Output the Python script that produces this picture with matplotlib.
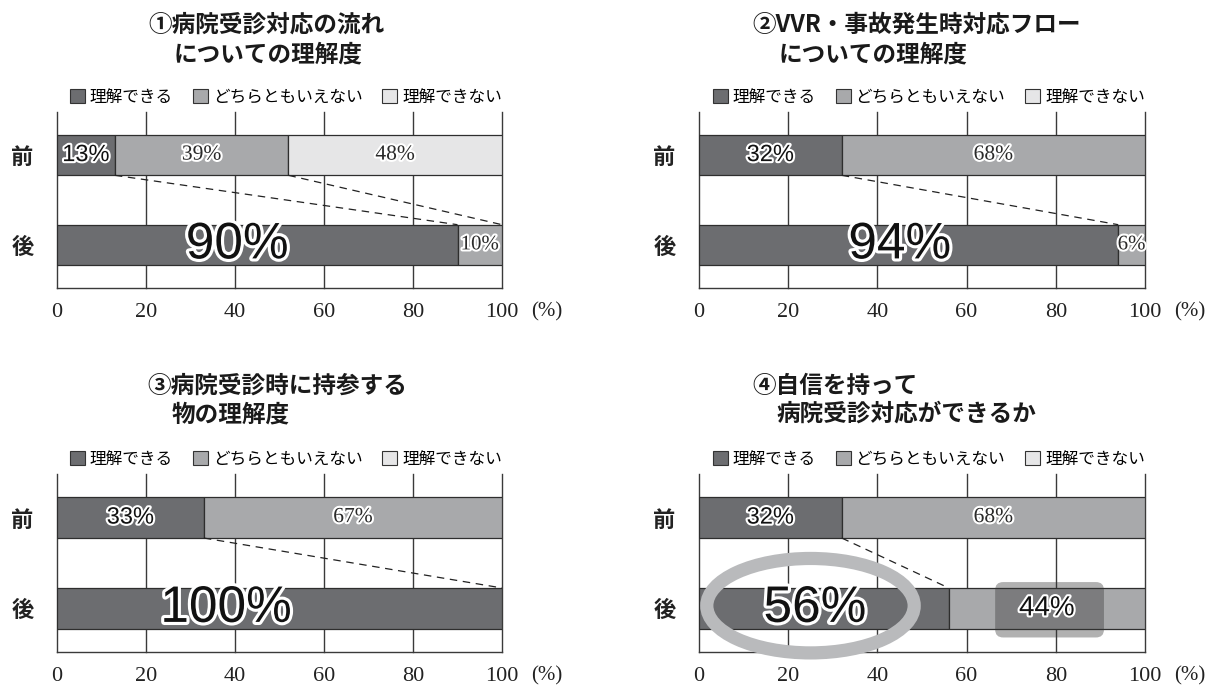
import matplotlib
matplotlib.use("Agg")
import matplotlib.pyplot as plt
import matplotlib.patheffects as pe
from matplotlib.patches import Patch, Ellipse, FancyBboxPatch

W, H, DPI = 1209, 686, 100

JP_SANS = ["Noto Sans CJK JP", "DejaVu Sans"]
NUM_SERIF = ["Liberation Serif", "Noto Sans CJK JP"]
NUM_SANS = ["Liberation Sans", "DejaVu Sans"]

# ---- data -------------------------------------------------------------
categories = ["理解できる", "どちらともいえない", "理解できない"]
stages = ["前", "後"]
xticks = [0, 20, 40, 60, 80, 100]

title_line1 = ["①病院受診対応の流れ", "②VVR・事故発生時対応フロー",
               "③病院受診時に持参する", "④自信を持って"]
title_line2 = ["についての理解度", "についての理解度",
               "物の理解度", "病院受診対応ができるか"]

# percentages per category, before (前) and after (後)
q1_before = [13, 39, 48]
q1_after = [90, 10, 0]
q2_before = [32, 68, 0]
q2_after = [94, 6, 0]
q3_before = [33, 67, 0]
q3_after = [100, 0, 0]
q4_before = [32, 68, 0]
q4_after = [56, 44, 0]

before = [q1_before, q2_before, q3_before, q4_before]
after = [q1_after, q2_after, q3_after, q4_after]

# ---- styling ----------------------------------------------------------
colors = ["#6c6d70", "#a8a9ab", "#e6e6e7"]
edge = "#2e2e2e"
grid_c = "#3a3a3a"

# axes boxes in pixels: left, top, right, bottom
boxes = [(57, 112, 502, 288), (699, 112, 1145, 288),
         (57, 474, 502, 652), (699, 474, 1145, 652)]
title_xy = [(148, 25, 174, 54), (752, 25, 779, 54),
            (147, 386, 172, 414), (752, 386, 776, 414)]
big_label_x = [40.5, 45, 38, 26]

BAR_H = 0.45
Y_BEFORE, Y_AFTER = 1, 0

fig = plt.figure(figsize=(W / DPI, H / DPI), dpi=DPI, facecolor="white")


def halo(w):
    return [pe.Stroke(linewidth=w, foreground="white"), pe.Normal()]


for i, (l, t, r, b) in enumerate(boxes):
    ax = fig.add_axes([l / W, 1 - b / H, (r - l) / W, (b - t) / H])
    ax.set_xlim(0, 100)
    ax.set_ylim(-0.48, 1.48)
    ax.set_axisbelow(True)
    for s in ["top", "right", "left"]:
        ax.spines[s].set_visible(False)
    ax.spines["bottom"].set_color(grid_c)
    ax.spines["bottom"].set_linewidth(1.0)
    ax.set_xticks(xticks)
    ax.set_xticklabels([str(v) for v in xticks], family=NUM_SERIF,
                       fontsize=16, color="#222222")
    ax.set_yticks([Y_BEFORE, Y_AFTER])
    ax.set_yticklabels(stages, family=JP_SANS, fontweight="bold",
                       fontsize=16, color="#222222")
    ax.tick_params(axis="x", length=0, pad=11)
    ax.tick_params(axis="y", length=0, pad=17)
    ax.grid(axis="x", color=grid_c, linewidth=1.0)
    ax.grid(axis="y", visible=False)
    for gl in ax.get_xgridlines():
        gl.set_clip_on(False)

    rows = [(Y_BEFORE, before[i]), (Y_AFTER, after[i])]
    bounds = {}
    for y, vals in rows:
        left = 0
        bl = []
        for k, v in enumerate(vals):
            if v > 0:
                ax.barh(y, v, left=left, height=BAR_H, color=colors[k],
                        edgecolor=edge, linewidth=0.9, zorder=2)
            left += v
            bl.append(left)
        bounds[y] = bl

    # value labels
    left = 0
    for k, v in enumerate(before[i]):
        if v > 0:
            cx = left + v / 2
            if k == 0:
                ax.text(cx, Y_BEFORE, f"{v}%", ha="center", va="center",
                        family=NUM_SANS, fontsize=17, color="#111111",
                        zorder=6, path_effects=halo(3))
            else:
                ax.text(cx, Y_BEFORE, f"{v}%", ha="center", va="center",
                        family=NUM_SERIF, fontsize=15.5, color="#2a2a2a",
                        zorder=6, path_effects=halo(3))
        left += v
    left = 0
    for k, v in enumerate(after[i]):
        if v > 0:
            cx = left + v / 2
            if k == 0:
                ax.text(big_label_x[i], Y_AFTER, f"{v}%", ha="center",
                        va="center", family=NUM_SANS, fontsize=37,
                        color="#111111", zorder=6, path_effects=halo(4.5))
            elif i == 3:
                ax.text(cx, Y_AFTER, f"{v}%", ha="center", va="center",
                        family=NUM_SANS, fontsize=20, color="#111111",
                        zorder=6, path_effects=halo(3))
            else:
                ax.text(cx, Y_AFTER, f"{v}%", ha="center", va="center",
                        family=NUM_SERIF, fontsize=15, color="#2a2a2a",
                        zorder=6, path_effects=halo(3))
        left += v

    # dashed connectors between matching cumulative boundaries
    for xb, xa in zip(bounds[Y_BEFORE], bounds[Y_AFTER]):
        if 0 < xb < 100:
            ax.plot([xb, xa], [Y_BEFORE - BAR_H / 2, Y_AFTER + BAR_H / 2],
                    color="#222222", linewidth=0.9, dashes=(6, 4.5),
                    zorder=3)

    # legend
    handles = [Patch(facecolor=c, edgecolor="#333333", linewidth=0.8)
               for c in colors]
    ax.legend(handles, categories, ncol=3, loc="center right",
              bbox_to_anchor=(1.0, 1 + 15 / (b - t)), frameon=False,
              borderaxespad=0, borderpad=0, handlelength=0.9,
              handleheight=0.9, handletextpad=0.3, columnspacing=1.2,
              prop={"family": JP_SANS, "size": 12})

    # unit label after the last tick
    fig.text((r + 45) / W, 1 - (b + 24) / H, "(%)", ha="center",
             va="center", family=NUM_SERIF, fontsize=15, color="#222222")

    # titles
    x1, y1, x2, y2 = title_xy[i]
    fig.text(x1 / W, 1 - y1 / H, title_line1[i], ha="left", va="center",
             family=JP_SANS, fontweight="bold", fontsize=17,
             color="#1a1a1a")
    fig.text(x2 / W, 1 - y2 / H, title_line2[i], ha="left", va="center",
             family=JP_SANS, fontweight="bold", fontsize=17,
             color="#1a1a1a")

    # highlights on the last panel
    if i == 3:
        ell = Ellipse((25, Y_AFTER + 0.03), 46.5, 1.04, fill=False,
                      edgecolor="#b9babc", linewidth=9.5, zorder=4,
                      clip_on=False)
        ax.add_patch(ell)
        px_x = 100 / (r - l)
        px_y = 1.96 / (b - t)
        rect = FancyBboxPatch((66.4, Y_AFTER - 0.32), 24.4, 0.61,
                              boxstyle=f"round,pad=0,rounding_size={8 * px_x}",
                              mutation_aspect=px_y / px_x,
                              facecolor="#373737", alpha=0.39,
                              edgecolor="none", zorder=5)
        ax.add_patch(rect)

fig.savefig("out.png", dpi=DPI, facecolor="white")
